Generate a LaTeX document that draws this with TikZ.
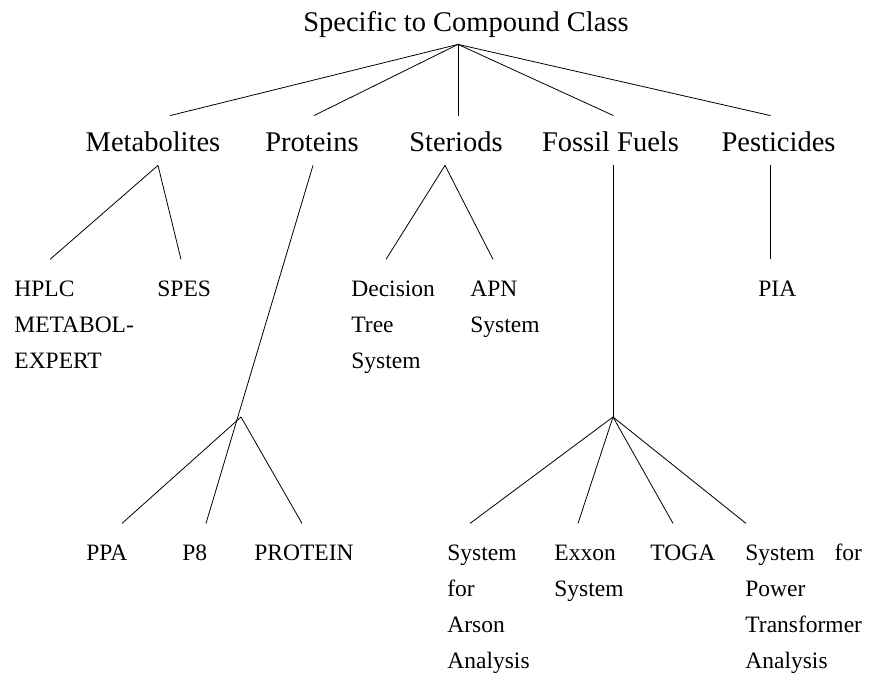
\documentclass[tikz,border=0pt]{standalone}
\usepackage{fontspec}
\setmainfont{Liberation Serif}
\usepackage{tikz}
\usetikzlibrary{positioning}

\newcommand{\lbl}[1]{\begin{tabular}[t]{@{}l@{}}#1\end{tabular}}

\begin{document}
\begin{tikzpicture}[x=1pt, y=-1pt, line width=0.8pt,
    rootbox/.style={font=\fontsize{28.5}{34}\selectfont, anchor=base, inner sep=0pt,
        text height=20pt, text depth=0pt, inner ysep=12pt},
    classbox/.style={font=\fontsize{28.5}{34}\selectfont, anchor=base, inner sep=0pt,
        text height=23pt, text depth=0pt, inner ysep=13pt},
    leafbox/.style={font=\fontsize{23.5}{36}\selectfont, anchor=base west, inner xsep=0pt,
        inner ysep=11pt}]
    \useasboundingbox (0,0) rectangle (872,679);

    % Root
    \node[rootbox] (root) at (466,32) {Specific to Compound Class};

    % Compound classes
    \node[classbox] (meta) at (153,152) {Metabolites};
    \node[classbox] (prot) at (312,152) {Proteins};
    \node[classbox] (ster) at (456,152) {Steriods};
    \node[classbox] (foss) at (610.5,152) {Fossil Fuels};
    \node[classbox] (pest) at (778.5,152) {Pesticides};

    % Upper systems
    \node[leafbox] (hplc) at (14,296) {\lbl{HPLC\\METABOL-\\EXPERT}};
    \node[leafbox] (spes) at (157,296) {\lbl{SPES}};
    \node[leafbox] (dect) at (351,296) {\lbl{Decision\\Tree\\System}};
    \node[leafbox] (apn) at (470,296) {\lbl{APN\\System}};
    \node[leafbox] (pia) at (758,296) {\lbl{PIA}};

    % Lower systems
    \node[leafbox] (ppa) at (86,560) {\lbl{PPA}};
    \node[leafbox] (ppe) at (182,560) {\lbl{P8}};
    \node[leafbox] (ptn) at (254,560) {\lbl{PROTEIN}};
    \node[leafbox] (arson) at (447,560) {\lbl{System\\for\\Arson\\Analysis}};
    \node[leafbox] (exxon) at (554,560) {\lbl{Exxon\\System}};
    \node[leafbox] (toga) at (650,560) {\lbl{TOGA}};
    \node[leafbox] (power) at (745,560) {\lbl{System\hfill for\\Power\\Transformer\\Analysis}};

    % Junctions
    \coordinate (pj) at (241,417);
    \coordinate (fj) at (613,417);

    % Root to classes
    \draw ([xshift=-8pt]root.south) -- ([xshift=17pt]meta.north);
    \draw ([xshift=-8pt]root.south) -- ([xshift=2pt]prot.north);
    \draw ([xshift=-8pt]root.south) -- ([xshift=2pt]ster.north);
    \draw ([xshift=-8pt]root.south) -- ([xshift=3pt]foss.north);
    \draw ([xshift=-8pt]root.south) -- ([xshift=-8pt]pest.north);

    % Classes to systems
    \draw ([xshift=5pt]meta.south) -- ([xshift=36pt]hplc.north west);
    \draw ([xshift=5pt]meta.south) -- ([xshift=24pt]spes.north west);
    \draw ([xshift=1pt]prot.south) -- ([xshift=24pt]ppe.north west);
    \draw (pj) -- ([xshift=36pt]ppa.north west);
    \draw (pj) -- ([xshift=48pt]ptn.north west);
    \draw ([xshift=-11pt]ster.south) -- ([xshift=35pt]dect.north west);
    \draw ([xshift=-11pt]ster.south) -- ([xshift=23pt]apn.north west);
    \draw ([xshift=2.5pt]foss.south) -- (fj);
    \draw (fj) -- ([xshift=23pt]arson.north west);
    \draw (fj) -- ([xshift=24pt]exxon.north west);
    \draw (fj) -- ([xshift=23pt]toga.north west);
    \draw (fj) -- ([xshift=1pt]power.north west);
    \draw ([xshift=-8.5pt]pest.south) -- ([xshift=12pt]pia.north west);
\end{tikzpicture}
\end{document}
